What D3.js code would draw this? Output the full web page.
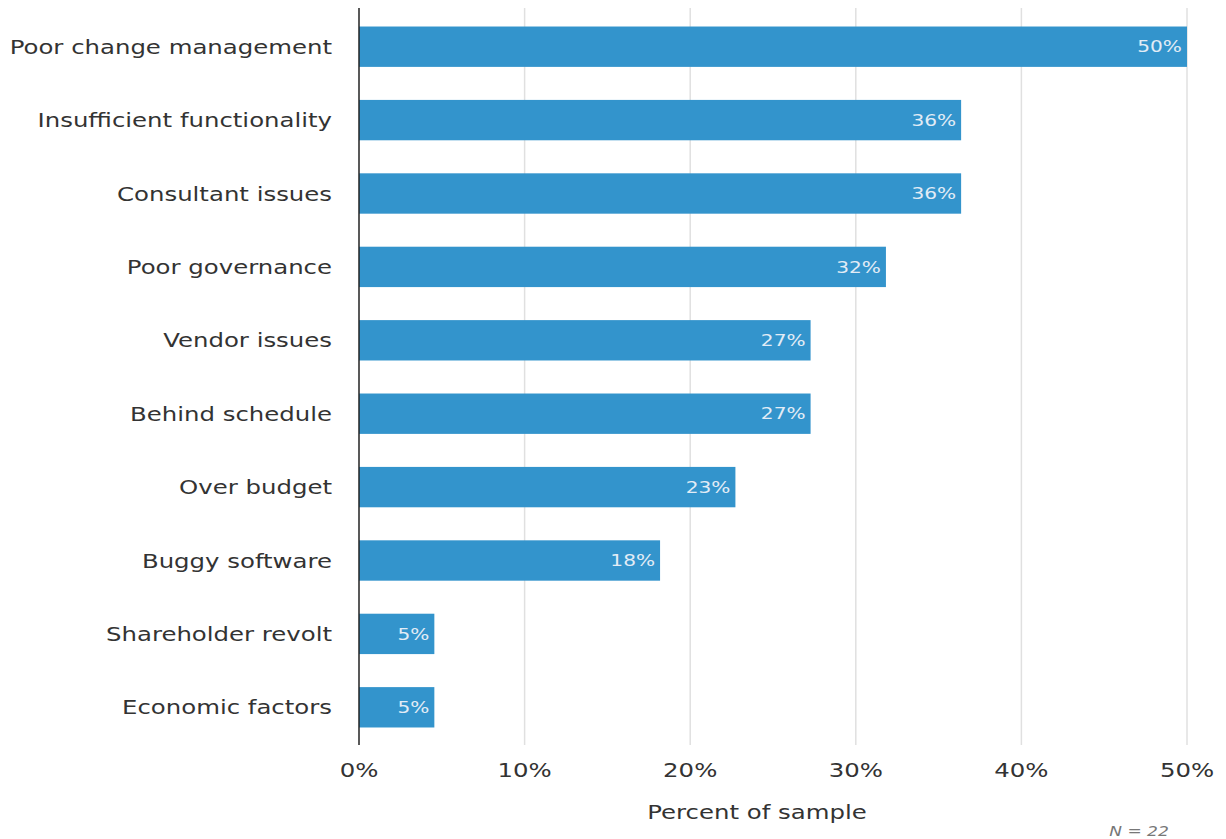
<!DOCTYPE html>
<html><head><meta charset="utf-8">
<script src="https://cdn.jsdelivr.net/npm/d3@7"></script>
<style>body{margin:0;background:#fff;}</style>
</head><body>
<svg id="c" width="1226" height="839"></svg>
<script>
const categories = ["Poor change management","Insufficient functionality","Consultant issues","Poor governance","Vendor issues","Behind schedule","Over budget","Buggy software","Shareholder revolt","Economic factors"];
const values = [50, 36.36, 36.36, 31.82, 27.27, 27.27, 22.73, 18.18, 4.55, 4.55];
const valueLabels = ["50%","36%","36%","32%","27%","27%","23%","18%","5%","5%"];
const xTicks = [0,10,20,30,40,50];

(function(){
const svg = d3.select("#c");
const font = "'DejaVu Sans', Verdana, sans-serif";
const sx = 1.22;
const pLeft = 359, pRight = 1187, pTop = 10, pBottom = 744;
const x = d3.scaleLinear().domain([0,50]).range([pLeft,pRight]);
const y = d3.scaleBand().domain(categories).range([pTop,pBottom]).paddingInner(0.45).paddingOuter(0.225);
const tr = (px,py)=>`translate(${px},${py}) scale(${sx},1)`;

svg.append("g").selectAll("line").data(xTicks.slice(1)).join("line")
  .attr("x1", d=>x(d)).attr("x2", d=>x(d)).attr("y1", pTop-2).attr("y2", pBottom+1)
  .attr("stroke", "#e0e0e0").attr("stroke-width", 1.5);

svg.append("g").selectAll("rect").data(values).join("rect")
  .attr("x", x(0)).attr("y", (d,i)=>y(categories[i]))
  .attr("width", d=>x(d)-x(0)).attr("height", y.bandwidth())
  .attr("fill", "#3394cc");

svg.append("g").selectAll("text").data(values).join("text")
  .attr("transform", (d,i)=>tr(x(d)-5, y(categories[i])+y.bandwidth()/2))
  .attr("dy","0.35em").attr("text-anchor","end")
  .attr("font-family", font).attr("font-size", 16.5).attr("fill","#e2ecf6")
  .text((d,i)=>valueLabels[i]);

svg.append("line").attr("x1",pLeft).attr("x2",pLeft).attr("y1",pTop-2).attr("y2",pBottom+1)
  .attr("stroke","#222").attr("stroke-width",1.5);

svg.append("g").selectAll("text").data(categories).join("text")
  .attr("transform", d=>tr(332, y(d)+y.bandwidth()/2))
  .attr("dy","0.35em").attr("text-anchor","end")
  .attr("font-family", font).attr("font-size", 20).attr("fill","#333")
  .text(d=>d);

svg.append("g").selectAll("text").data(xTicks).join("text")
  .attr("transform", d=>tr(x(d), 770))
  .attr("dy","0.35em").attr("text-anchor","middle")
  .attr("font-family", font).attr("font-size", 20).attr("fill","#333")
  .text(d=>d+"%");

svg.append("text").attr("transform", tr(757, 812)).attr("dy","0.35em")
  .attr("text-anchor","middle").attr("font-family", font).attr("font-size", 20).attr("fill","#333")
  .text("Percent of sample");

svg.append("text").attr("transform", tr(1139, 831)).attr("dy","0.35em")
  .attr("text-anchor","middle").attr("font-family", font).attr("font-size", 14)
  .attr("font-style","italic").attr("fill","#777")
  .text("N = 22");
})();
</script>
</body></html>
